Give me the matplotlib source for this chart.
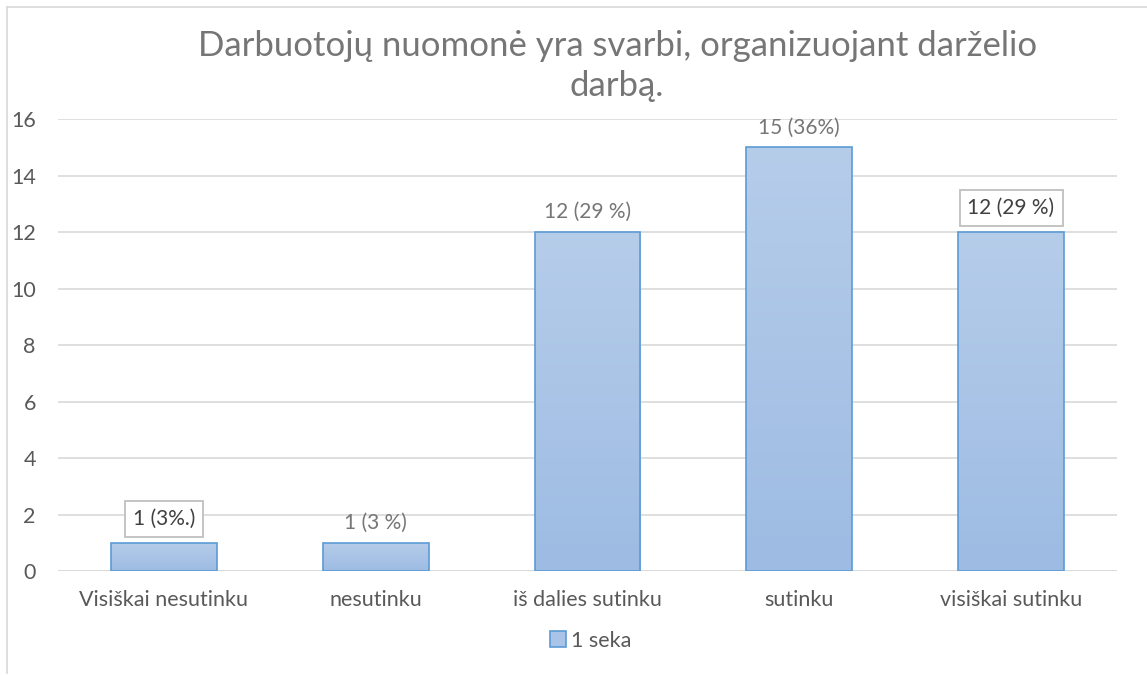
import numpy as np
import matplotlib.pyplot as plt
from matplotlib.lines import Line2D
from matplotlib.patches import Patch

plt.rcParams['font.family'] = ['Lato', 'DejaVu Sans']

# data
categories = ['Visiškai nesutinku', 'nesutinku', 'iš dalies sutinku', 'sutinku', 'visiškai sutinku']
values = [1, 1, 12, 15, 12]
labels = ['1 (3%.)', '1 (3 %)', '12 (29 %)', '15 (36%)', '12 (29 %)']
boxed = [True, False, False, False, True]
title = 'Darbuotojų nuomonė yra svarbi, organizuojant darželio\ndarbą.'
series_name = '1 seka'

grey = '#595959'
light = '#767676'
edge = '#5b9bd5'

fig = plt.figure(figsize=(11.47, 6.75), dpi=100)
ax = fig.add_axes([0.0506, 0.154, 0.9232, 0.6696])

x = np.arange(len(categories))
bars = ax.bar(x, values, width=0.5, color='none', edgecolor=edge, linewidth=1.2, zorder=3)

# vertical gradient inside each bar
grad = np.linspace(0, 1, 256).reshape(-1, 1)
cmap = plt.matplotlib.colors.LinearSegmentedColormap.from_list('g', ['#9dbbe3', '#b6cdea'])
for b in bars:
    x0, y0 = b.get_x(), b.get_y()
    w, h = b.get_width(), b.get_height()
    im = ax.imshow(grad, extent=[x0, x0 + w, y0, y0 + h], origin='lower',
                   cmap=cmap, aspect='auto', zorder=2)
    im.set_clip_path(b)

for xi, v, lab, bx in zip(x, values, labels, boxed):
    kw = {}
    if bx:
        kw['bbox'] = dict(boxstyle='square,pad=0.38', fc='white', ec='#bfbfbf', lw=1.3)
    ax.annotate(lab, (xi, v), xytext=(0, 10 if bx else 7), textcoords='offset points',
                ha='center', va='bottom', fontsize=15,
                color='#404040' if bx else light, zorder=4, **kw)

ax.set_xlim(-0.5, len(categories) - 0.5)
ax.set_ylim(0, 16)
ax.set_yticks(range(0, 17, 2))
ax.set_xticks(x)
ax.set_xticklabels(categories)
ax.tick_params(axis='both', length=0, labelsize=15.5, colors=grey)
ax.tick_params(axis='y', pad=16)
ax.tick_params(axis='x', pad=14)
ax.grid(axis='y', color='#d9d9d9', linewidth=1.2, zorder=0)
for s in ax.spines.values():
    s.set_visible(False)
ax.axhline(0, color='#d9d9d9', linewidth=1.2, zorder=1)

fig.text(0.538, 0.902, title, ha='center', va='center', fontsize=25,
         color=light, linespacing=1.3)

handle = Patch(facecolor='#a9c4e6', edgecolor=edge, linewidth=1.2)
fig.legend([handle], [series_name], loc='center', bbox_to_anchor=(0.515, 0.051),
           frameon=False, fontsize=15.5, labelcolor=grey, handlelength=0.75,
           handleheight=0.75, handletextpad=0.25)

# outer chart border (top and left only visible)
fig.add_artist(Line2D([0.006, 1.0], [0.99, 0.99], color='#d9d9d9', lw=1.2, transform=fig.transFigure))
fig.add_artist(Line2D([0.006, 0.006], [0.003, 0.99], color='#d9d9d9', lw=1.2, transform=fig.transFigure))

fig.savefig('out.png', dpi=100)
